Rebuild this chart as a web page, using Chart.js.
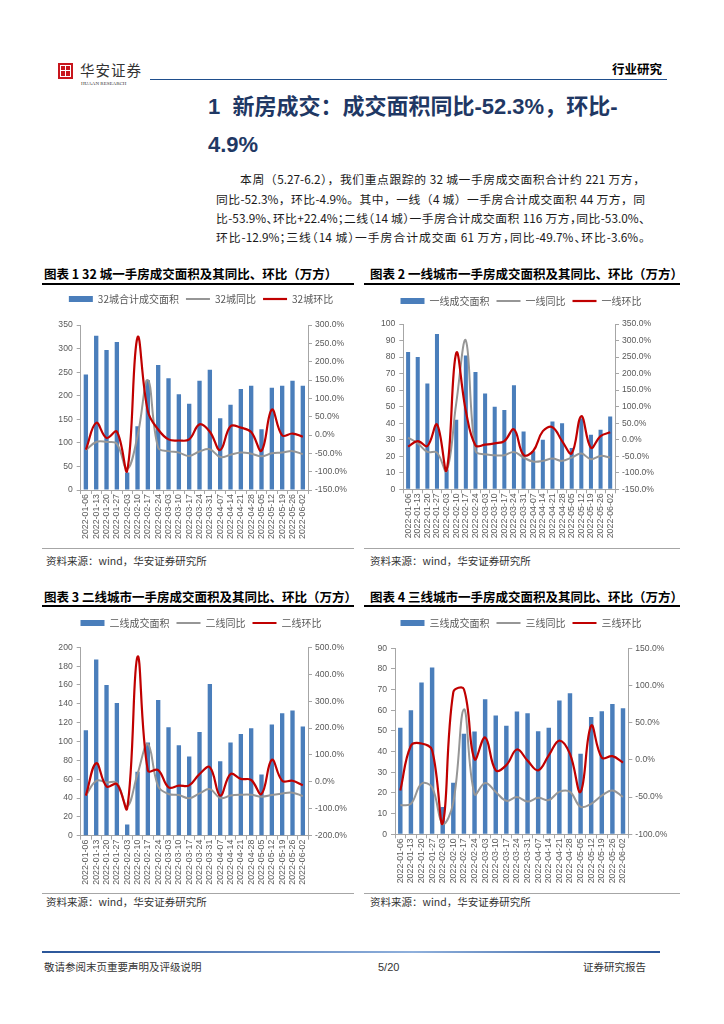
<!DOCTYPE html>
<html>
<head>
<meta charset="utf-8">
<script src="https://cdn.jsdelivr.net/npm/chart.js@4.4.0/dist/chart.umd.min.js"></script>
<style>
  body { margin: 0; width: 724px; height: 1024px; position: relative; background: #fff; overflow: hidden;
         font-family: "Noto Sans CJK SC", sans-serif; color: #1a1a1a; }
  .abs { position: absolute; white-space: nowrap; line-height: 1; }
  .para { position: absolute; font-size: 11.8px; line-height: 1; text-align: justify; text-align-last: justify; white-space: nowrap; }
  .halt { font-feature-settings: "halt"; }
  .ctitle { position: absolute; font-size: 12.5px; font-weight: 700; line-height: 1; color: #000; white-space: nowrap; }
  .uline { position: absolute; height: 2px; background: #000; }
  .gline { position: absolute; height: 1px; background: #a6a6a6; }
  .src { position: absolute; font-size: 10.5px; line-height: 1; color: #333; white-space: nowrap; }
  .box { position: absolute; }
</style>
</head>
<body>

<!-- 页眉 -->
<div class="box" style="left:58px;top:63px;width:15px;height:16px;background:#c8161d;"></div>
<div class="box" style="left:60px;top:65px;width:9px;height:10px;border:1px solid #fff;"></div>
<div class="box" style="left:65px;top:65px;width:1px;height:12px;background:#fff;"></div>
<div class="box" style="left:60px;top:70px;width:11px;height:1px;background:#fff;"></div>
<div class="abs" style="left:80px;top:63px;font-size:14.5px;color:#333;letter-spacing:1px;">华安证券</div>
<div class="abs" style="left:81px;top:81px;font-size:5px;color:#333;font-family:'Liberation Serif';">HUAAN RESEARCH</div>
<div class="box" style="left:150px;top:79px;width:517px;height:1px;background:#1f4e8c;"></div>
<div class="abs" style="left:612px;top:63px;font-size:12.5px;font-weight:700;color:#000;">行业研究</div>

<!-- 标题 -->
<div class="abs" style="left:208px;top:96px;font-size:22px;font-weight:700;color:#1f3864;font-family:'Liberation Sans','Noto Sans CJK SC';">1&nbsp; 新房成交：成交面积同比-52.3%，环比-</div>
<div class="abs" style="left:208px;top:134px;font-size:22px;font-weight:700;color:#1f3864;font-family:'Liberation Sans','Noto Sans CJK SC';">4.9%</div>

<div class="para" style="left:240px;top:173px;width:405px;">本周（5.27-6.2），我们重点跟踪的 32 城一手房成交面积合计约 221 万方，</div>
<div class="para" style="left:216px;top:193px;width:429px;">同比-52.3%，环比-4.9%。其中，一线（4 城）一手房合计成交面积 44 万方，同</div>
<div class="para halt" style="left:216px;top:212px;width:429px;">比-53.9%、环比+22.4%；二线（14 城）一手房合计成交面积 116 万方，同比-53.0%、</div>
<div class="para halt" style="left:216px;top:231px;width:429px;">环比-12.9%；三线（14 城）一手房合计成交面 61 万方，同比-49.7%、环比-3.6%。</div>

<!-- 图表标题 -->
<div class="ctitle" style="left:44px;top:268px;">图表 1 32 城一手房成交面积及其同比、环比（万方）</div>
<div class="uline" style="left:42px;top:283px;width:312px;"></div>
<div class="ctitle" style="left:370px;top:268px;">图表 2 一线城市一手房成交面积及其同比、环比（万方）</div>
<div class="uline" style="left:364px;top:283px;width:316px;"></div>

<div class="box" style="left:42px;top:287px;width:318px;height:261px;"><canvas id="c1"></canvas></div>
<div class="box" style="left:362px;top:289px;width:318px;height:259px;"><canvas id="c2"></canvas></div>

<div class="gline" style="left:42px;top:548px;width:312px;"></div>
<div class="gline" style="left:364px;top:548px;width:316px;"></div>
<div class="src" style="left:46px;top:556px;">资料来源：wind，华安证券研究所</div>
<div class="src" style="left:370px;top:556px;">资料来源：wind，华安证券研究所</div>

<div class="ctitle" style="left:44px;top:591px;">图表 3 二线城市一手房成交面积及其同比、环比（万方）</div>
<div class="uline" style="left:42px;top:605px;width:312px;"></div>
<div class="ctitle" style="left:370px;top:591px;">图表 4 三线城市一手房成交面积及其同比、环比（万方）</div>
<div class="uline" style="left:364px;top:605px;width:316px;"></div>

<div class="box" style="left:42px;top:611px;width:318px;height:282px;"><canvas id="c3"></canvas></div>
<div class="box" style="left:362px;top:611px;width:318px;height:282px;"><canvas id="c4"></canvas></div>

<div class="gline" style="left:42px;top:893px;width:312px;"></div>
<div class="gline" style="left:364px;top:893px;width:316px;"></div>
<div class="src" style="left:46px;top:897px;">资料来源：wind，华安证券研究所</div>
<div class="src" style="left:370px;top:897px;">资料来源：wind，华安证券研究所</div>

<!-- 页脚 -->
<div class="box" style="left:42px;top:951px;width:618px;height:2px;background:linear-gradient(to right,#2a5599,#8fb0dc 60%,#2a5599);"></div>
<div class="abs" style="left:44px;top:962px;font-size:10.5px;color:#333;">敬请参阅末页重要声明及评级说明</div>
<div class="abs" style="left:378px;top:962px;font-size:11px;color:#333;font-family:'Liberation Sans';">5/20</div>
<div class="abs" style="left:583px;top:962px;font-size:10.5px;color:#333;">证券研究报告</div>

<script>
// 周度日期
var weeks = ['2022-01-06','2022-01-13','2022-01-20','2022-01-27','2022-02-03','2022-02-10','2022-02-17',
             '2022-02-24','2022-03-03','2022-03-10','2022-03-17','2022-03-24','2022-03-31','2022-04-07',
             '2022-04-14','2022-04-21','2022-04-28','2022-05-05','2022-05-12','2022-05-19','2022-05-26','2022-06-02'];

// 32城
var area32 = [245, 327, 297, 314, 37, 135, 233, 265, 237, 203, 183, 232, 255, 152, 181, 214, 221, 129, 217, 221, 232, 221];
var yoy32  = [-41, -19, -19, -24, -93, -3, 150, -35, -44, -48, -57, -45, -39, -60, -54, -48, -51, -58, -50, -48, -44, -52.3];
var mom32  = [-40, 33, -8, 9, -97, 266, 65, 15, -12, -15, -12, 29, 9, -41, 24, 20, 8, -43, 69, -1, 4, -4.9];

// 一线
var area1 = [83, 80, 64, 94, 12, 42, 81, 71, 58, 50, 48, 63, 35, 23, 30, 41, 40, 25, 43, 33, 36, 44];
var yoy1  = [6, -11, -37, -39, -95, 110, 300, -34, -44, -47, -47, -37, -54, -66, -64, -57, -64, -54, -42, -59, -49, -53.9];
var mom1  = [-21, -4, -19, 46, -92, 262, 87, -17, -15, -11, -4, 31, -46, -34, 26, 38, -4, -41, 71, -24, 11, 22.4];

// 二线
var area2 = [112, 187, 160, 141, 12, 68, 99, 144, 115, 96, 84, 110, 161, 79, 99, 108, 114, 65, 118, 130, 133, 116];
var yoy2  = [-51, 4, -2, -4, -91, 29, 140, -17, -45, -49, -61, -43, -27, -60, -51, -48, -48, -55, -49, -43, -40, -53];
var mom2  = [-51, 69, -17, -8, -98, 465, 42, 44, -20, -14, -13, 29, 54, -51, 29, 11, 7, -45, 82, 4, 4, -12.9];

// 三线
var area3 = [51.5, 60, 73.4, 80.7, 13.2, 25, 48.6, 49.8, 65.4, 57.5, 52.5, 59.4, 58.6, 49.9, 51.5, 64.7, 68.3, 39, 56.8, 59.6, 63, 61];
var yoy3  = [-61, -59, -32, -37, -86, -57, 68, -46, -31, -43, -55, -50, -56, -51, -54, -43, -43, -63, -59, -48, -41, -49.7];
var mom3  = [-41, 19, 22, 13, -85, 91, 95, 1, 30, -14, -7, 14, -1, -14, 6, 26, 8, -43, 46, 3, 5, -3.6];

var axisColor = '#a6a6a6';
var tickColor = '#595959';
var latin = "'Liberation Sans', Arial, sans-serif";
var cjk = "'Noto Sans CJK SC', sans-serif";

// 固定图例高度
var fixLegend = {
    id: 'fixLegend',
    beforeUpdate: function(chart, args, opts) {
        var lg = chart.legend;
        if (lg && !lg._fixed) {
            var fit = lg.fit;
            lg.fit = function() { fit.call(this); this.height = opts.height; };
            lg._fixed = true;
        }
    }
};

function makeChart(id, names, bars, yoy, mom, left, right, dims) {
    return new Chart(document.getElementById(id), {
        type: 'bar',
        data: {
            labels: weeks,
            datasets: [{
                type: 'bar',
                label: names[0],
                data: bars,
                yAxisID: 'y',
                backgroundColor: '#4a7ebb',
                borderWidth: 0,
                barPercentage: 0.42,
                categoryPercentage: 1,
                order: 3
            }, {
                type: 'line',
                label: names[1],
                data: yoy,
                yAxisID: 'y1',
                borderColor: '#969696',
                backgroundColor: '#969696',
                borderWidth: 2,
                pointRadius: 0,
                tension: 0.4,
                order: 2
            }, {
                type: 'line',
                label: names[2],
                data: mom,
                yAxisID: 'y1',
                borderColor: '#c00000',
                backgroundColor: '#c00000',
                borderWidth: 2.2,
                pointRadius: 0,
                tension: 0.4,
                order: 1
            }]
        },
        plugins: [fixLegend],
        options: {
            responsive: false,
            animation: false,
            layout: { padding: 0 },
            plugins: {
                fixLegend: { height: dims.top },
                tooltip: { enabled: false },
                legend: {
                    position: 'top',
                    labels: {
                        usePointStyle: true,
                        pointStyleWidth: 24,
                        boxHeight: 6,
                        padding: 7,
                        color: tickColor,
                        font: { size: 10, family: cjk },
                        sort: function(a, b) { return a.datasetIndex - b.datasetIndex; },
                        generateLabels: function(chart) {
                            var items = Chart.defaults.plugins.legend.labels.generateLabels(chart);
                            items.forEach(function(it) { it.pointStyle = it.datasetIndex === 0 ? 'rect' : 'line'; });
                            return items;
                        }
                    }
                }
            },
            scales: {
                x: {
                    offset: true,
                    grid: { drawOnChartArea: false, drawTicks: true, tickLength: 4, color: axisColor, offset: true },
                    border: { color: axisColor },
                    ticks: { autoSkip: false, minRotation: 90, maxRotation: 90, padding: 0, color: tickColor,
                             font: { size: 8.8, family: latin } },
                    afterFit: function(s) { s.height = dims.xh; }
                },
                y: {
                    position: 'left',
                    min: left[0], max: left[1],
                    grid: { drawOnChartArea: false, tickLength: 4, color: axisColor },
                    border: { color: axisColor },
                    ticks: { stepSize: left[2], padding: 4, color: tickColor, font: { size: 8.6, family: latin } },
                    afterFit: function(s) { s.width = dims.yl; }
                },
                y1: {
                    position: 'right',
                    min: right[0], max: right[1],
                    grid: { drawOnChartArea: false, tickLength: 4, color: axisColor },
                    border: { color: axisColor },
                    ticks: { stepSize: right[2], padding: 3, color: tickColor, font: { size: 8.6, family: latin },
                             callback: function(v) { return v.toFixed(1) + '%'; } },
                    afterFit: function(s) { s.width = dims.yr; }
                }
            }
        }
    });
}

function sizeCanvas(id) {
    var c = document.getElementById(id);
    var p = c.parentNode;
    c.width = p.clientWidth;
    c.height = p.clientHeight;
    c.style.width = p.clientWidth + 'px';
    c.style.height = p.clientHeight + 'px';
}

function drawAll() {
    ['c1', 'c2', 'c3', 'c4'].forEach(sizeCanvas);
    makeChart('c1', ['32城合计成交面积', '32城同比', '32城环比'], area32, yoy32, mom32,
              [0, 350, 50], [-150, 300, 50], { top: 38, xh: 58, yl: 38.7, yr: 52 });
    makeChart('c2', ['一线成交面积', '一线同比', '一线环比'], area1, yoy1, mom1,
              [0, 100, 10], [-150, 350, 50], { top: 35, xh: 58.7, yl: 41.3, yr: 65 });
    makeChart('c3', ['二线成交面积', '二线同比', '二线环比'], area2, yoy2, mom2,
              [0, 200, 20], [-200, 500, 100], { top: 36.3, xh: 57.3, yl: 38.7, yr: 52 });
    makeChart('c4', ['三线成交面积', '三线同比', '三线环比'], area3, yoy3, mom3,
              [0, 90, 10], [-100, 150, 50], { top: 37.3, xh: 58.7, yl: 33, yr: 51.7 });
}

document.addEventListener('DOMContentLoaded', function() {
    if (document.fonts && document.fonts.load) {
        Promise.all([
            document.fonts.load('10px "Noto Sans CJK SC"', '一线成交面积同比环比'),
            document.fonts.load('9px "Liberation Sans"', '2022')
        ]).then(drawAll, drawAll);
    } else {
        drawAll();
    }
});
</script>
</body>
</html>
